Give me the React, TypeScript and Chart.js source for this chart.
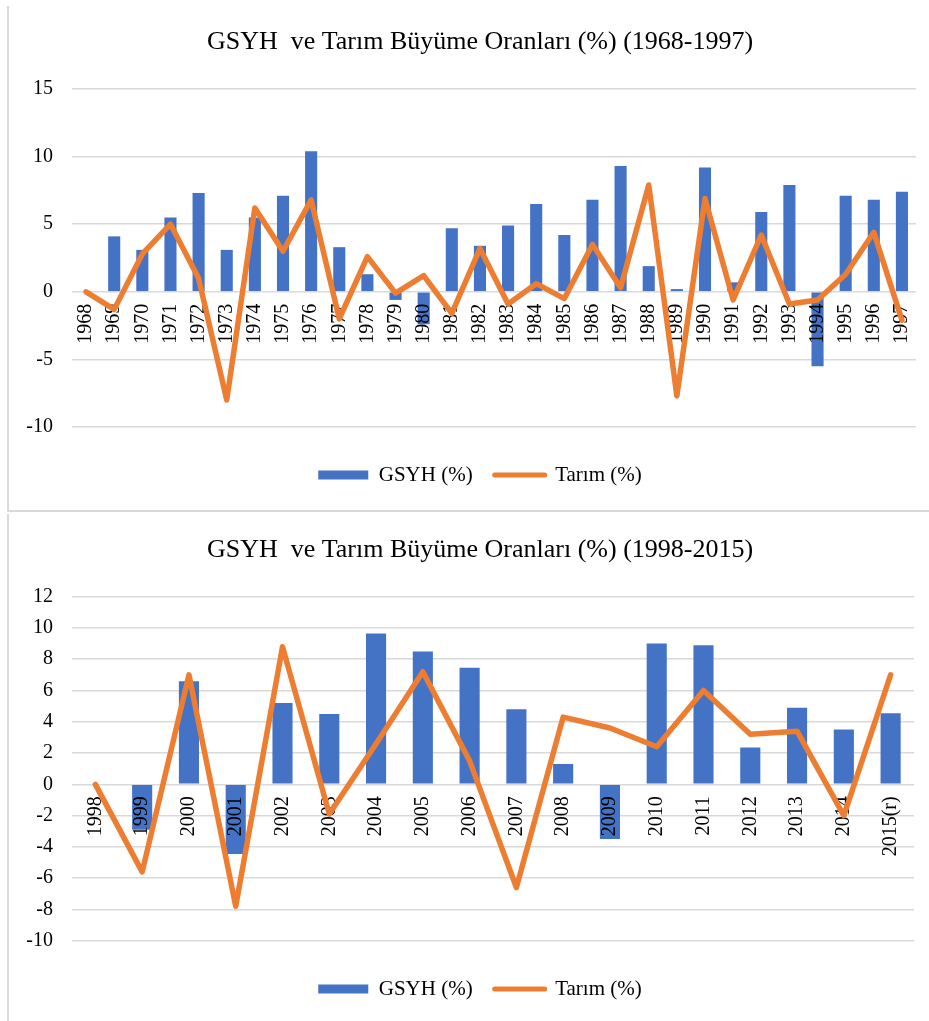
import React, { useEffect, useRef } from 'react';
import { Chart, registerables } from 'chart.js';

Chart.register(...registerables);

const BLUE = '#4472c4';
const ORANGE = '#ed7d31';
const GRID = '#d9d9d9';
const FONT = "'Liberation Serif', 'Times New Roman', serif";

const title1 = 'GSYH  ve Tarım Büyüme Oranları (%) (1968-1997)';
const title2 = 'GSYH  ve Tarım Büyüme Oranları (%) (1998-2015)';
const seriesBarName = 'GSYH (%)';
const seriesLineName = 'Tarım (%)';

const years1 = ['1968', '1969', '1970', '1971', '1972', '1973', '1974', '1975', '1976', '1977', '1978', '1979', '1980', '1981', '1982', '1983', '1984', '1985', '1986', '1987', '1988', '1989', '1990', '1991', '1992', '1993', '1994', '1995', '1996', '1997'];
const gsyh1 = [null, 4.1, 3.1, 5.5, 7.3, 3.1, 5.5, 7.1, 10.4, 3.3, 1.3, -0.6, -2.4, 4.7, 3.4, 4.9, 6.5, 4.2, 6.8, 9.3, 1.9, 0.2, 9.2, 0.7, 5.9, 7.9, -5.5, 7.1, 6.8, 7.4];
const tarim1 = [0, -1.3, 2.8, 5.0, 1.0, -8.0, 6.2, 3.0, 6.8, -2.0, 2.6, -0.1, 1.2, -1.6, 3.2, -0.9, 0.6, -0.5, 3.5, 0.3, 7.9, -7.7, 6.9, -0.6, 4.2, -0.9, -0.6, 1.3, 4.4, -2.1];
const yTicks1 = { min: -10, max: 15, step: 5 };

const years2 = ['1998', '1999', '2000', '2001', '2002', '2003', '2004', '2005', '2006', '2007', '2008', '2009', '2010', '2011', '2012', '2013', '2014', '2015(r)'];
const gsyh2 = [null, -2.9, 6.6, -4.45, 5.2, 4.5, 9.65, 8.5, 7.45, 4.8, 1.3, -3.5, 9.0, 8.9, 2.35, 4.9, 3.5, 4.55];
const tarim2 = [0, -5.6, 7.0, -7.8, 8.8, -1.9, 2.6, 7.2, 1.5, -6.6, 4.3, 3.6, 2.4, 6.0, 3.2, 3.4, -2.0, 7.0];
const yTicks2 = { min: -10, max: 12, step: 2 };

const labelsUnderLine = {
  id: 'labelsUnderLine',
  beforeDatasetDraw(chart: any, args: any) {
    if (args.meta.type === 'line') {
      chart.scales.x.drawLabels(chart.chartArea);
    }
  },
};

interface ChartProps {
  labels: string[];
  gsyh: (number | null)[];
  tarim: number[];
  yt: { min: number; max: number; step: number };
  title: string;
  width: number;
  height: number;
  titlePad: { top: number; bottom: number };
  legendOffset: number;
  padBottom: number;
  rightPad: number;
  left: number;
  top: number;
}

function ComboChart(p: ChartProps) {
  const ref = useRef<HTMLCanvasElement | null>(null);
  useEffect(() => {
    if (!ref.current) return;
    const chart = new Chart(ref.current, {
      type: 'bar',
      data: {
        labels: p.labels,
        datasets: [
          {
            type: 'bar',
            label: seriesBarName,
            data: p.gsyh,
            backgroundColor: BLUE,
            barPercentage: 0.43,
            categoryPercentage: 1,
            order: 2,
          } as any,
          {
            type: 'line',
            label: seriesLineName,
            data: p.tarim,
            borderColor: ORANGE,
            backgroundColor: ORANGE,
            borderWidth: 5.5,
            pointRadius: 0,
            pointHoverRadius: 0,
            borderJoinStyle: 'round',
            borderCapStyle: 'round',
            tension: 0,
            order: 1,
          } as any,
        ],
      },
      options: {
        responsive: false,
        animation: false,
        devicePixelRatio: 1,
        layout: { padding: { left: 0, right: 0, top: 0, bottom: p.padBottom } },
        scales: {
          x: {
            display: false,
            position: { y: 0 } as any,
            grid: { display: false, drawTicks: false },
            ticks: {
              minRotation: 90,
              maxRotation: 90,
              autoSkip: false,
              padding: 12,
              color: '#000',
              font: { family: FONT, size: 20 },
            },
          },
          y: {
            min: p.yt.min,
            max: p.yt.max,
            ticks: {
              stepSize: p.yt.step,
              color: '#000',
              padding: 19,
              font: { family: FONT, size: 20 },
            },
            grid: { color: GRID, lineWidth: 1.5, drawTicks: false },
            border: { display: false },
            afterFit: (s: any) => {
              s.width = 63;
            },
          },
          yr: {
            position: 'right',
            grid: { display: false },
            border: { display: false },
            ticks: { display: false },
            afterFit: (s: any) => {
              s.width = p.rightPad;
            },
          },
        } as any,
        plugins: {
          title: {
            display: true,
            text: p.title,
            color: '#000',
            font: { family: FONT, size: 26, weight: 'normal', lineHeight: 1.2 },
            padding: p.titlePad,
          },
          legend: {
            display: true,
            position: 'bottom',
            title: {
              display: true,
              text: '',
              font: { size: 10, lineHeight: 1 },
              padding: { top: p.legendOffset, bottom: 0 },
            },
            labels: {
              usePointStyle: true,
              pointStyleWidth: 50,
              boxHeight: 9,
              padding: 22,
              color: '#000',
              font: { family: FONT, size: 21 },
              generateLabels: () => [
                {
                  text: seriesBarName,
                  fillStyle: BLUE,
                  strokeStyle: BLUE,
                  lineWidth: 0,
                  pointStyle: 'rect',
                  hidden: false,
                  datasetIndex: 0,
                  fontColor: '#000',
                },
                {
                  text: seriesLineName,
                  fillStyle: ORANGE,
                  strokeStyle: ORANGE,
                  lineWidth: 5,
                  lineCap: 'round',
                  pointStyle: 'line',
                  hidden: false,
                  datasetIndex: 1,
                  fontColor: '#000',
                },
              ] as any,
            },
          } as any,
          tooltip: { enabled: false },
        },
      },
      plugins: [labelsUnderLine as any],
    });
    return () => chart.destroy();
  }, []);
  return (
    <canvas
      ref={ref}
      width={p.width}
      height={p.height}
      style={{ position: 'absolute', left: p.left, top: p.top, width: p.width, height: p.height }}
    />
  );
}

export default function App() {
  return (
    <div
      style={{
        position: 'absolute',
        left: 0,
        top: 0,
        width: 929,
        height: 1021,
        overflow: 'hidden',
        background: '#fff',
      }}
    >
      <div style={{ position: 'absolute', left: 7, top: 6, width: 2, height: 505, background: GRID }} />
      <div style={{ position: 'absolute', left: 7, top: 510, width: 922, height: 2, background: GRID }} />
      <div style={{ position: 'absolute', left: 7, top: 514, width: 2, height: 507, background: GRID }} />
      <ComboChart
        labels={years1}
        gsyh={gsyh1}
        tarim={tarim1}
        yt={yTicks1}
        title={title1}
        left={9}
        top={6}
        width={942}
        height={504}
        titlePad={{ top: 20.4, bottom: 31.4 }}
        legendOffset={5.5}
        padBottom={14.5}
        rightPad={35}
      />
      <ComboChart
        labels={years2}
        gsyh={gsyh2}
        tarim={tarim2}
        yt={yTicks2}
        title={title2}
        left={9}
        top={514}
        width={942}
        height={507}
        titlePad={{ top: 20.4, bottom: 31.1 }}
        legendOffset={5.8}
        padBottom={11.5}
        rightPad={37}
      />
    </div>
  );
}
